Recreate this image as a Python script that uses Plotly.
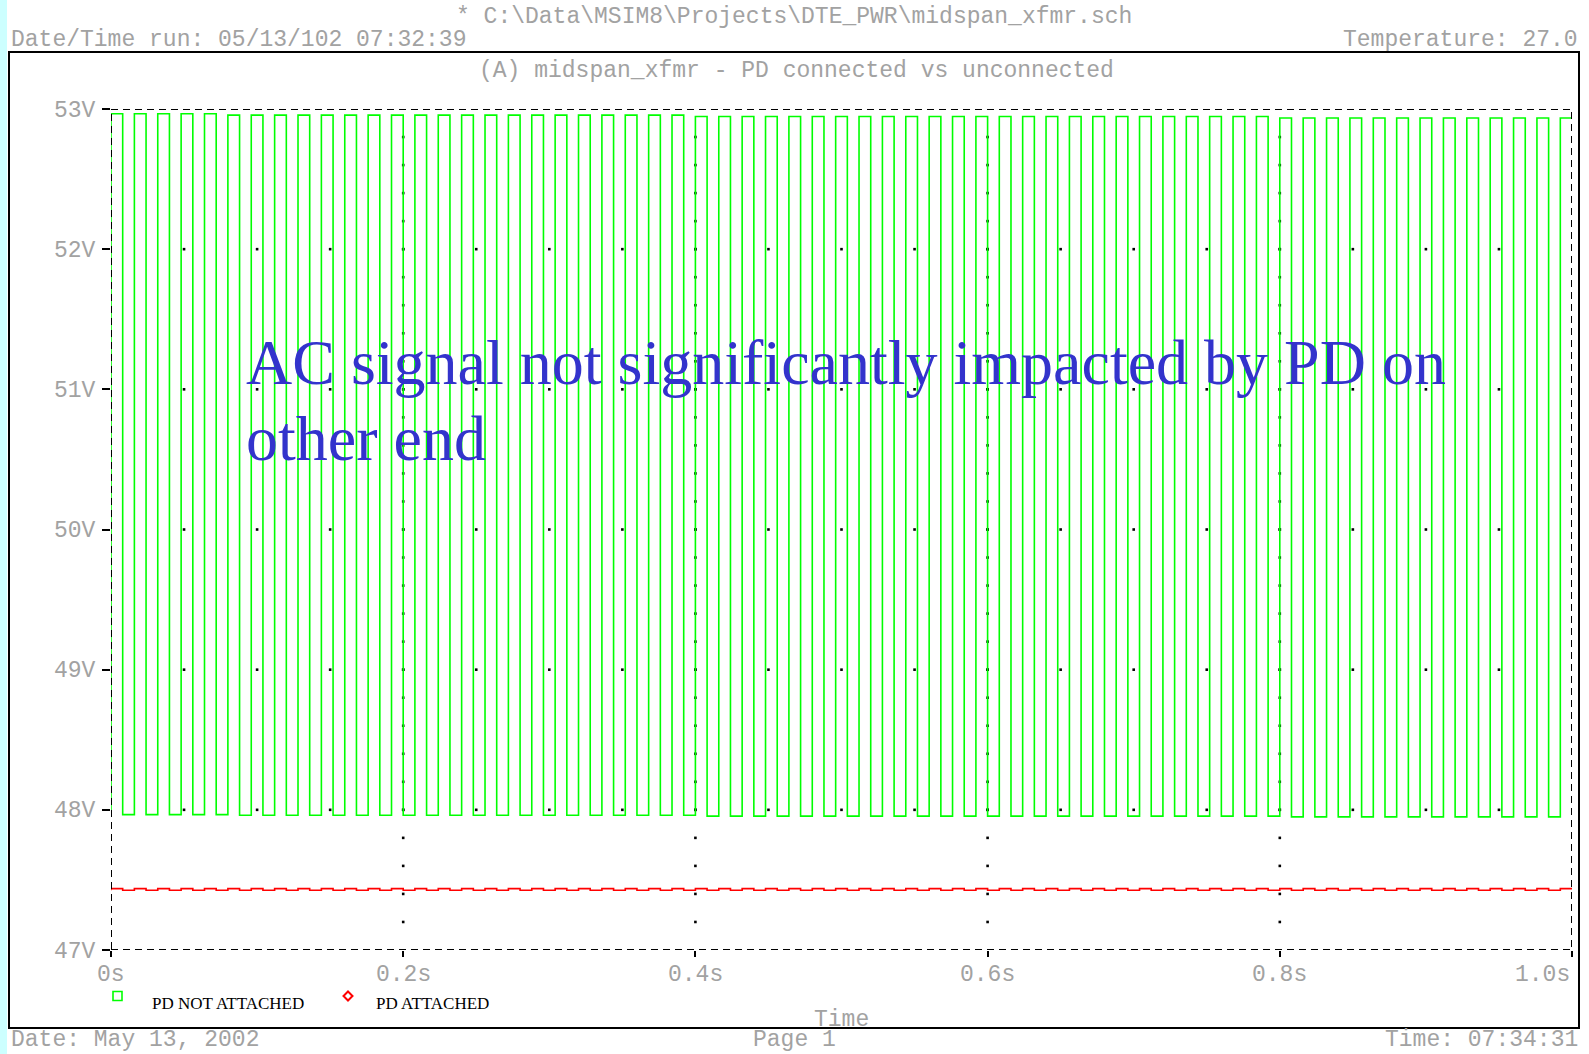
import plotly.graph_objects as go

# ---------------- data ----------------
PERIOD_S = 0.016          # square-wave period (s)
T_END_S = 1.0

# per-cycle plateau levels of "PD NOT ATTACHED" (V)
GREEN_HIGH_V = [
    52.966, 52.966, 52.966, 52.966, 52.966,
    52.956, 52.956, 52.956, 52.956, 52.956, 52.956, 52.956, 52.956, 52.956, 52.956,
    52.956, 52.956, 52.956, 52.956, 52.956, 52.956, 52.956, 52.956, 52.956, 52.956,
    52.946, 52.946, 52.946, 52.946, 52.946, 52.946, 52.946, 52.946, 52.946, 52.946,
    52.946, 52.946, 52.946, 52.946, 52.946, 52.946, 52.946, 52.946, 52.946, 52.946,
    52.946, 52.946, 52.946, 52.946, 52.946,
    52.936, 52.936, 52.936, 52.936, 52.936, 52.936, 52.936, 52.936, 52.936, 52.936,
    52.936, 52.936, 52.936,
]
GREEN_LOW_V = [
    47.966, 47.966, 47.966, 47.966, 47.966,
    47.961, 47.961, 47.961, 47.961, 47.961, 47.961, 47.961, 47.961, 47.961, 47.961,
    47.961, 47.961, 47.961, 47.961, 47.961, 47.961, 47.961, 47.961, 47.961, 47.961,
    47.955, 47.955, 47.955, 47.955, 47.955, 47.955, 47.955, 47.955, 47.955, 47.955,
    47.955, 47.955, 47.955, 47.955, 47.955, 47.955, 47.955, 47.955, 47.955, 47.955,
    47.955, 47.955, 47.955, 47.955, 47.955,
    47.950, 47.950, 47.950, 47.950, 47.950, 47.950, 47.950, 47.950, 47.950, 47.950,
    47.950, 47.950, 47.950,
]
# "PD ATTACHED" – tiny ripple around 47.43 V
RED_HIGH_V = 47.438
RED_LOW_V = 47.426

X_TICKS = [0.0, 0.2, 0.4, 0.6, 0.8, 1.0]
X_TICK_TEXT = ["0s", "0.2s", "0.4s", "0.6s", "0.8s", "1.0s"]
Y_TICKS = [47, 48, 49, 50, 51, 52, 53]
Y_TICK_TEXT = ["47V", "48V", "49V", "50V", "51V", "52V", "53V"]
X_MINOR_STEP = 0.05
Y_MINOR_STEP = 0.2

SERIES_NAMES = ["PD NOT ATTACHED", "PD ATTACHED"]
TITLE_FILE = "* C:\\Data\\MSIM8\\Projects\\DTE_PWR\\midspan_xfmr.sch"
TITLE_RUN = "Date/Time run: 05/13/102 07:32:39"
TITLE_TEMP = "Temperature: 27.0"
PLOT_TITLE = "(A) midspan_xfmr - PD connected vs unconnected"
X_TITLE = "Time"
FOOT_DATE = "Date: May 13, 2002"
FOOT_PAGE = "Page 1"
FOOT_TIME = "Time: 07:34:31"
NOTE_LINES = ["AC signal not significantly impacted by PD on", "other end"]

# ---------------- build step traces ----------------
def square_wave(highs, lows, period, t_end):
    xs, ys = [0.0], [lows[0]]
    for k, (hi, lo) in enumerate(zip(highs, lows)):
        t_r = k * period
        t_f = t_r + period / 2
        if t_r >= t_end:
            break
        xs.append(t_r); ys.append(hi)
        if t_f < t_end:
            xs.append(t_f); ys.append(lo)
    xs.append(t_end); ys.append(ys[-1])
    return xs, ys

gx, gy = square_wave(GREEN_HIGH_V, GREEN_LOW_V, PERIOD_S, T_END_S)
n_cyc = len(GREEN_HIGH_V)
rx, ry = square_wave([RED_HIGH_V] * n_cyc, [RED_LOW_V] * n_cyc, PERIOD_S, T_END_S)

# ---------------- layout geometry ----------------
W, H = 1589, 1054
ML, MR, MT, MB = 111, 17, 109, 104
PW, PH = W - ML - MR, H - MT - MB

def px(x):
    return (x - ML) / PW

def py(y):
    return (H - MB - y) / PH

MONO = "Liberation Mono, Courier New, monospace"
SERIF = "Liberation Serif, Times New Roman, serif"
GRAY = "#a2a2a2"
MONO_DY = 2.5   # visual centring offset for monospace text

# dotted grid (PSpice style): dots at minor steps along major grid lines
gdx, gdy = [], []
for xv in X_TICKS[1:-1]:
    n = int(round((Y_TICKS[-1] - Y_TICKS[0]) / Y_MINOR_STEP))
    for i in range(1, n):
        gdx.append(xv); gdy.append(Y_TICKS[0] + i * Y_MINOR_STEP)
for yv in Y_TICKS[1:-1]:
    n = int(round((X_TICKS[-1] - X_TICKS[0]) / X_MINOR_STEP))
    for i in range(1, n):
        gdx.append(X_TICKS[0] + i * X_MINOR_STEP); gdy.append(yv)

fig = go.Figure()
fig.add_trace(go.Scatter(x=gdx, y=gdy, mode="markers",
                         marker=dict(symbol="square", size=2.6, color="black",
                                     line=dict(width=0)),
                         hoverinfo="skip", showlegend=False))
fig.add_trace(go.Scatter(x=gx, y=gy, mode="lines", line_shape="hv",
                         line=dict(color="#00ff00", width=1.6),
                         name=SERIES_NAMES[0], showlegend=False))
fig.add_trace(go.Scatter(x=rx, y=ry, mode="lines", line_shape="hv",
                         line=dict(color="#ff0000", width=1.6),
                         name=SERIES_NAMES[1], showlegend=False))

shapes = [
    dict(type="rect", xref="paper", yref="paper", x0=px(0), x1=px(7), y0=py(0), y1=py(H),
         fillcolor="#ccffff", line=dict(width=0), layer="below"),
    dict(type="rect", xref="paper", yref="paper", x0=px(9), x1=px(1579), y0=py(52), y1=py(1028),
         line=dict(color="black", width=2)),
    dict(type="rect", xref="x", yref="y", x0=X_TICKS[0], x1=X_TICKS[-1],
         y0=Y_TICKS[0], y1=Y_TICKS[-1], line=dict(color="black", width=2, dash="7px,5px")),
    dict(type="rect", xref="paper", yref="paper", x0=px(113), x1=px(122), y0=py(991.5), y1=py(1000.5),
         line=dict(color="#00ff00", width=1.6)),
    dict(type="path", xref="paper", yref="paper",
         path=f"M{px(348)},{py(991.5)} L{px(352.5)},{py(996)} L{px(348)},{py(1000.5)} L{px(343.5)},{py(996)} Z",
         line=dict(color="#ff0000", width=2)),
]

ann = []
def txt(text, x, y, xanchor="center", size=23, color=GRAY, family=MONO, yanchor="middle"):
    if family == MONO:
        y = y + MONO_DY
    ann.append(dict(text=text, x=px(x), y=py(y), xref="paper", yref="paper",
                    xanchor=xanchor, yanchor=yanchor, showarrow=False, borderpad=0,
                    font=dict(family=family, size=size, color=color)))

txt(TITLE_FILE, 794, 14)
txt(TITLE_RUN, 10, 37.5, xanchor="left")
txt(TITLE_TEMP, 1579, 37.5, xanchor="right")
txt(PLOT_TITLE, 796, 68)
txt(X_TITLE, 841, 1017)
# footer: anchored at the bottom edge so the text box stays inside the page
txt(FOOT_DATE, 10, 1054 - MONO_DY, xanchor="left", size=23, yanchor="bottom")
txt(FOOT_PAGE, 794, 1054 - MONO_DY, size=23, yanchor="bottom")
txt(FOOT_TIME, 1579, 1054 - MONO_DY, xanchor="right", size=23, yanchor="bottom")
txt(SERIES_NAMES[0], 151, 1003, xanchor="left", size=17, color="black", family=SERIF)
txt(SERIES_NAMES[1], 375, 1003, xanchor="left", size=17, color="black", family=SERIF)
txt(NOTE_LINES[0], 245, 362, xanchor="left", size=64, color="#3333cc", family=SERIF)
txt(NOTE_LINES[1], 245, 438, xanchor="left", size=64, color="#3333cc", family=SERIF)

# tick labels
for v, t in zip(X_TICKS, X_TICK_TEXT):
    xa = "right" if v == X_TICKS[-1] else "center"
    ann.append(dict(text=t, x=v, xref="x", y=py(973 + MONO_DY), yref="paper", xanchor=xa,
                    yanchor="middle", showarrow=False,
                    font=dict(family=MONO, size=23, color=GRAY)))
for v, t in zip(Y_TICKS, Y_TICK_TEXT):
    ann.append(dict(text=t, x=px(98), xref="paper", y=v, yref="y", xanchor="right",
                    yanchor="middle", yshift=-1.5, showarrow=False,
                    font=dict(family=MONO, size=23, color=GRAY)))

fig.update_layout(
    width=W, height=H, margin=dict(l=ML, r=MR, t=MT, b=MB, pad=0),
    paper_bgcolor="white", plot_bgcolor="white", showlegend=False,
    shapes=shapes, annotations=ann,
    xaxis=dict(range=[X_TICKS[0], X_TICKS[-1]], tickvals=X_TICKS, showticklabels=False,
               ticks="outside", ticklen=6, tickwidth=1.5, tickcolor="black",
               showgrid=False, zeroline=False, showline=False, fixedrange=True),
    yaxis=dict(range=[Y_TICKS[0], Y_TICKS[-1]], tickvals=Y_TICKS, showticklabels=False,
               ticks="outside", ticklen=8, tickwidth=1.5, tickcolor="black",
               showgrid=False, zeroline=False, showline=False, fixedrange=True),
)

fig.write_html("out.html")
